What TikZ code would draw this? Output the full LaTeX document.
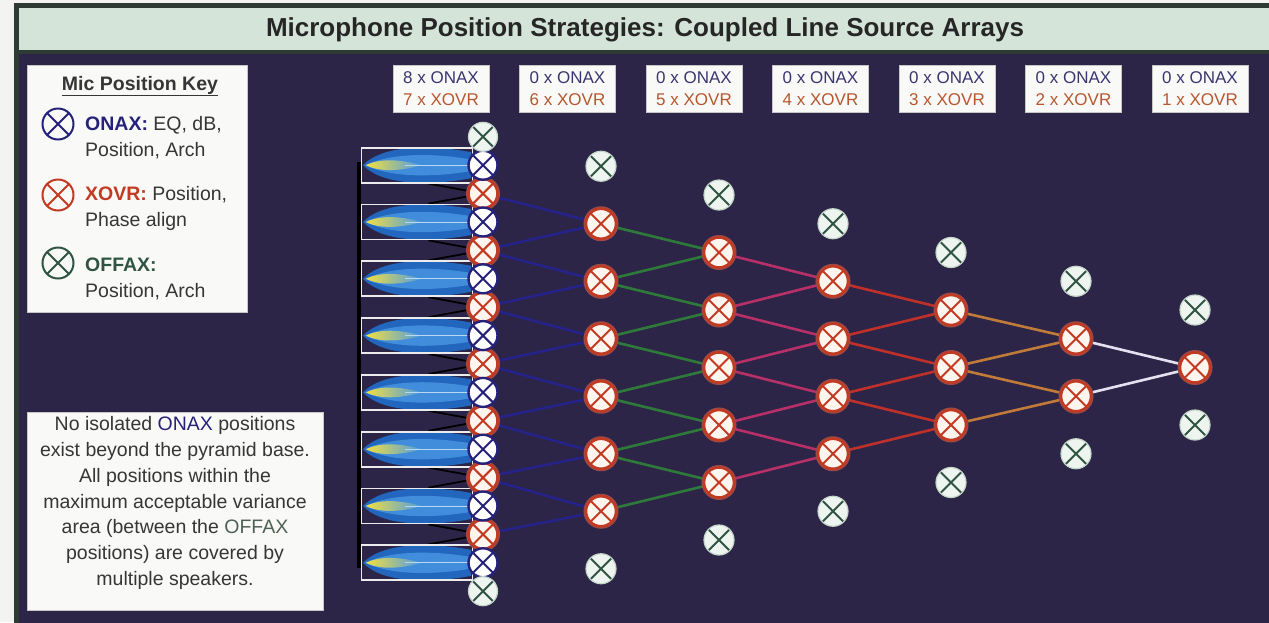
\documentclass[tikz,border=0pt]{standalone}
\usepackage{fontspec}
\setmainfont{Liberation Sans}
\usetikzlibrary{calc}

\definecolor{paper}{HTML}{F3F3F1}
\definecolor{frame}{HTML}{2E3A34}
\definecolor{stage}{HTML}{2C2547}
\definecolor{titlebar}{HTML}{D4E4D8}
\definecolor{onax}{HTML}{26227A}
\definecolor{xovr}{HTML}{C23A22}
\definecolor{xglow}{HTML}{9A4A48}
\definecolor{xfill}{HTML}{FFF5EF}
\definecolor{offax}{HTML}{2F5443}
\definecolor{offfill}{HTML}{EEF4EF}
\definecolor{offring}{HTML}{C4D6C9}
\definecolor{bodytext}{HTML}{363636}
\definecolor{hdron}{HTML}{3A3670}
\definecolor{hdrx}{HTML}{B8562E}
\definecolor{offword}{HTML}{4F6157}
\definecolor{lblue}{HTML}{25228A}
\definecolor{lgreen}{HTML}{2E7A3A}
\definecolor{lmag}{HTML}{B83068}
\definecolor{lred}{HTML}{C0302A}
\definecolor{lorange}{HTML}{C07A3A}
\definecolor{lwhite}{HTML}{E4E2F0}
\definecolor{beam}{HTML}{2266BE}
\definecolor{beamlight}{HTML}{4C9BE6}
\definecolor{beamcore}{HTML}{F2DF40}
\definecolor{panelfill}{HTML}{F9F9F7}

\pgfdeclarelayer{bottom}
\pgfdeclarelayer{back}
\pgfsetlayers{bottom,back,main}

\tikzset{
  xmark/.style={path picture={
    \draw[line width=2pt, draw=#1]
      (path picture bounding box.south west) -- (path picture bounding box.north east)
      (path picture bounding box.north west) -- (path picture bounding box.south east);}},
  micbase/.style={circle, inner sep=0pt, minimum size=30pt},
  onaxmic/.style={micbase, fill=white, draw=onax, line width=2.4pt, xmark=onax},
  xovrmic/.style={micbase, fill=xfill, draw=xovr, line width=2.6pt, xmark=xovr,
    preaction={draw=xglow, line width=5pt}},
  offaxmic/.style={micbase, fill=offfill, draw=offring, line width=1.2pt, xmark=offax},
  keysym/.style={micbase, minimum size=31pt, line width=2pt, draw=#1, xmark=#1},
  speaker/.style={draw=white!85!gray, line width=1.8pt, minimum width=111pt,
    minimum height=35pt, inner sep=0pt},
  conn/.style={line width=2.6pt},
  vline/.style={draw=black, line width=1.8pt},
  panel/.style={fill=panelfill, draw=gray!45, line width=0.8pt, inner sep=0pt},
  hdrbox/.style={panel, minimum width=96pt, minimum height=47pt, align=center,
    font=\fontsize{17}{22}\selectfont},
  keytxt/.style={anchor=west, inner sep=0pt, align=left, text=bodytext,
    font=\fontsize{19.5}{26}\selectfont},
}

\begin{document}
\begin{tikzpicture}[x=1pt,y=-1pt]
\useasboundingbox (0,0) rectangle (1269,622);

% page, frame and title strip
\begin{pgfonlayer}{bottom}
  \fill[paper] (0,0) rectangle (1269,622);
  \filldraw[fill=stage, draw=frame, line width=5pt] (16.5,5.5) rectangle (1290,640);
  \filldraw[fill=titlebar, draw=frame, line width=4pt] (16.5,5.5) rectangle (1290,52);
\end{pgfonlayer}

\node[font=\bfseries\fontsize{26}{30}\selectfont, text=black!85] (title) at (645,30)
  {Microphone Position Strategies: Coupled Line Source Arrays};

% column headers
\foreach \i/\on/\xo in {0/8/7,1/0/6,2/0/5,3/0/4,4/0/3,5/0/2,6/0/1}{
  \node[hdrbox] (hdr\i) at ({441+126.5*\i},88.5)
    {\textcolor{hdron}{\on\ x ONAX}\\\textcolor{hdrx}{\xo\ x XOVR}};
}

% key panel
\node[panel, minimum width=220pt, minimum height=247pt] (key) at (137,188.5) {};
\node[inner sep=0pt, text=bodytext, font=\bfseries\fontsize{19.5}{22}\selectfont]
  (keyhead) at (140,86) {\underline{Mic Position Key}};
\node[keysym=onax] (keyon) at (58,124) {};
\node[keysym=xovr] (keyxo) at (58,195) {};
\node[keysym=offax] (keyoff) at (58,263) {};
\node[keytxt] (keyontxt) at (85,137.5)
  {\textbf{\textcolor{onax}{ONAX:}} EQ, dB,\\Position, Arch};
\node[keytxt] (keyxotxt) at (85,208.5)
  {\textbf{\textcolor{xovr}{XOVR:}} Position,\\Phase align};
\node[keytxt] (keyofftxt) at (85,278.5)
  {\textbf{\textcolor{offax}{OFFAX:}}\\Position, Arch};

% note panel
\node[panel, minimum width=296pt, minimum height=198pt] (note) at (175,511) {};
\node[inner sep=0pt, align=center, text=bodytext, font=\fontsize{19.5}{25.8}\selectfont]
  (notetxt) at (175,503)
  {No isolated \textcolor{onax}{ONAX} positions\\
   exist beyond the pyramid base.\\
   All positions within the\\
   maximum acceptable variance\\
   area (between the \textcolor{offword}{OFFAX}\\
   positions) are covered by\\
   multiple speakers.};

% speaker cabinets with their beams, and the rigging bar behind them
\begin{pgfonlayer}{back}
  \fill[black] (356.5,162) rectangle (360.5,568);
  \foreach \i in {0,...,7}{
    \pgfmathsetmacro\yy{165.2+56.8*\i}
    \fill[beam] (363,\yy) .. controls (385,\yy-23) and (440,\yy-19) .. (471,\yy-13)
      -- (471,\yy+13) .. controls (440,\yy+19) and (385,\yy+23) .. (363,\yy) -- cycle;
    \fill[beamlight, opacity=.75] (365,\yy) .. controls (395,\yy-14) and (440,\yy-11) .. (470,\yy-6)
      -- (470,\yy+6) .. controls (440,\yy+11) and (395,\yy+14) .. (365,\yy) -- cycle;
    \shade[left color=beamcore, right color=beamlight] (366,\yy)
      .. controls (380,\yy-7) and (400,\yy-6) .. (422,\yy)
      .. controls (400,\yy+6) and (380,\yy+7) .. (366,\yy) -- cycle;
    \draw[white!60!beamlight, line width=0.8pt] (405,\yy) -- (470,\yy);
  }
\end{pgfonlayer}
\foreach \i in {0,...,7}{
  \pgfmathsetmacro\yy{165.2+56.8*\i}
  \node[speaker] (spk\i) at (417,\yy) {};
}

% pyramid base: crossover points, on-axis points, off-axis limits
\foreach \j in {1,...,7}{
  \pgfmathsetmacro\yy{165.2+56.8*(\j-0.5)}
  \node[xovrmic, minimum size=29pt] (x0-\j) at (483,\yy) {};
}
\foreach \i in {0,...,7}{
  \pgfmathsetmacro\yy{165.2+56.8*\i}
  \node[onaxmic, minimum size=29pt] (on\i) at (483,\yy) {};
}
\node[offaxmic, minimum size=29pt] (of0-t) at (483,136.8) {};
\node[offaxmic, minimum size=29pt] (of0-b) at (483,591.2) {};

% higher rows of the pyramid
\foreach \k/\cx in {1/601,2/719,3/833,4/951,5/1076,6/1195}{
  \pgfmathtruncatemacro\n{7-\k}
  \foreach \j in {1,...,\n}{
    \pgfmathsetmacro\yy{367.5+57.5*(\j-(\n+1)/2)}
    \node[xovrmic] (x\k-\j) at (\cx,\yy) {};
  }
  \pgfmathsetmacro\yt{367.5-57.5*((\n+1)/2)}
  \pgfmathsetmacro\yb{367.5+57.5*((\n+1)/2)}
  \node[offaxmic] (of\k-t) at (\cx,\yt) {};
  \node[offaxmic] (of\k-b) at (\cx,\yb) {};
}

% coverage edges of each cabinet meeting at the base crossovers
\begin{pgfonlayer}{back}
  \foreach \j in {1,...,7}{
    \pgfmathtruncatemacro\a{\j-1}
    \draw[vline] ($(spk\a.south west)+(68,0)$) -- (x0-\j.center)
                 ($(spk\j.north west)+(68,0)$) -- (x0-\j.center);
  }
  % links between crossover points of successive rows
  \foreach \k/\col in {1/lblue,2/lgreen,3/lmag,4/lred,5/lorange,6/lwhite}{
    \pgfmathtruncatemacro\n{7-\k}
    \pgfmathtruncatemacro\p{\k-1}
    \foreach \j in {1,...,\n}{
      \pgfmathtruncatemacro\jj{\j+1}
      \draw[conn, draw=\col] (x\p-\j) -- (x\k-\j) (x\p-\jj) -- (x\k-\j);
    }
  }
\end{pgfonlayer}
\end{tikzpicture}
\end{document}
